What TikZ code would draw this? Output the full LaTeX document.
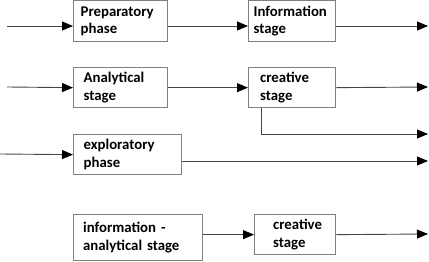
\documentclass[tikz,border=0pt]{standalone}
\usepackage{fontspec}
\setmainfont{Carlito}
\usepackage{tikz}
\usetikzlibrary{arrows.meta}
\definecolor{boxgray}{RGB}{128, 128, 128}
\definecolor{linegray}{RGB}{70, 70, 70}

\tikzset{
  phasebox/.style={draw=boxgray, line width=1.3pt, anchor=north west, inner sep=0pt,
    align=left, font=\bfseries\fontsize{14.8}{17.5}\selectfont},
  flow/.style={draw=linegray, line width=0.9pt, -{Triangle[length=11pt, width=9pt, color=black]}},
  plain/.style={draw=linegray, line width=0.9pt}
}

\begin{document}
\begin{tikzpicture}[x=1pt, y=-1pt]
  \useasboundingbox (0, 0) rectangle (429, 262);

  % boxes
  \node[phasebox, minimum width=94, minimum height=41, text width=80] (prep) at (73, 0) {Preparatory\\phase};
  \node[phasebox, minimum width=87, minimum height=41, text width=77] (info) at (248, 0) {Information\\stage};
  \node[phasebox, minimum width=94, minimum height=40, text width=80] (anal) at (73, 67) {\hspace{3pt}Analytical\\\hspace{3pt}stage};
  \node[phasebox, minimum width=87, minimum height=40, text width=72] (crea) at (248, 67) {\hspace{4pt}creative\\\hspace{4pt}stage};
  \node[phasebox, minimum width=108, minimum height=40, text width=94] (expl) at (73, 134) {\hspace{3pt}exploratory\\\hspace{3pt}phase};
  \node[phasebox, minimum width=129, minimum height=46, text width=116] (infoanal) at (73, 214) {\hspace{3pt}information -\\\hspace{3pt}analytical stage};
  \node[phasebox, minimum width=81, minimum height=40, text width=60] (creb) at (254, 214) {\hspace{8pt}creative\\\hspace{8pt}stage};

  % loose ends
  \coordinate (in1) at (7, 26);
  \coordinate (out1) at (428, 26);
  \coordinate (in2) at (7, 87);
  \coordinate (out2) at (428, 87);
  \coordinate (out2b) at (428, 134);
  \coordinate (in3) at (0, 154);
  \coordinate (out3) at (428, 161);
  \coordinate (out4) at (428, 234);

  % row 1
  \draw[flow] (in1) -- (in1 -| prep.west);
  \draw[flow] (prep.east |- in1) -- (info.west |- in1);
  \draw[flow] (info.east |- in1) -- (out1);

  % row 2
  \draw[flow] (in2) -- (anal.west);
  \draw[flow] (anal.east) -- (crea.west);
  \draw[flow] (crea.east) -- (out2);
  \draw[flow] ([xshift=13pt]crea.south west) |- (out2b);

  % row 3
  \draw[flow] (in3) -- (expl.west);
  \draw[flow] (expl.east |- out3) -- (out3);

  % row 4
  \draw[flow] (infoanal.east |- creb.west) -- (creb.west);
  \draw[flow] (creb.east) -- (out4);
\end{tikzpicture}
\end{document}
